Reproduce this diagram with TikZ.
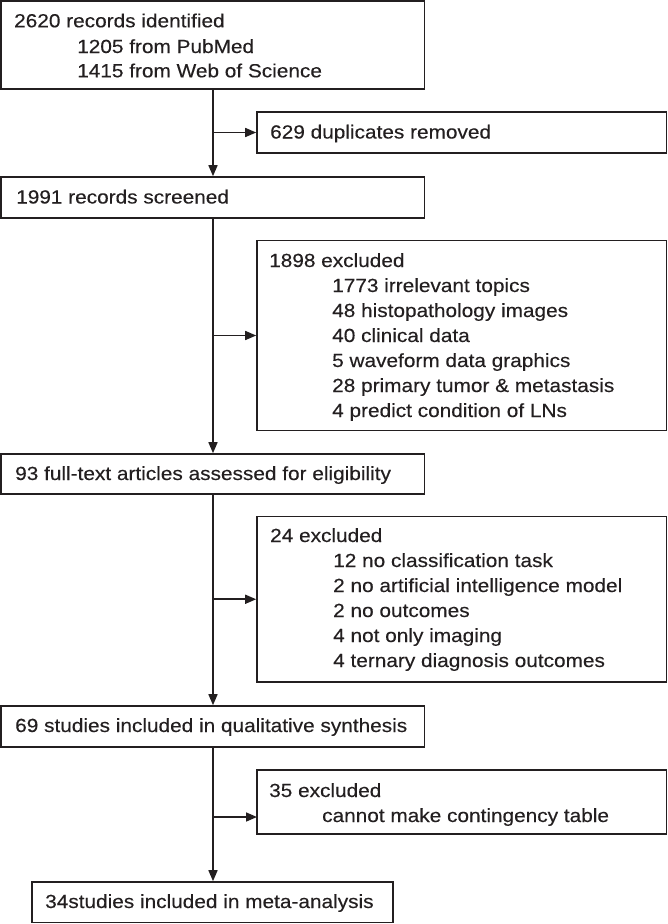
\documentclass[tikz,border=0pt]{standalone}
\usepackage{fontspec}
\setmainfont{Liberation Sans}[FakeStretch=1.095,FakeBold=0.3]
\usetikzlibrary{arrows.meta,fit}
\definecolor{ink}{HTML}{231F20}
\begin{document}
\begin{tikzpicture}[x=1pt,y=-1pt,
  box/.style={draw=ink, line width=1.6pt, inner sep=0pt, rectangle},
  txt/.style={anchor=base west, inner sep=0pt, text=ink, font=\fontsize{19}{25}\selectfont},
  arr/.style={draw=ink, line width=1.6pt, -{Triangle[length=11pt,width=9pt]}}]
\useasboundingbox (0,0) rectangle (668,924);
% boxes
\node[box, fit={(1,1) (424.5,89)}] (b1) {};
\node[box, fit={(257,112) (666.5,153)}] (dup) {};
\node[box, fit={(1,177) (424.5,218)}] (b2) {};
\node[box, fit={(257,240.5) (666.5,430.5)}] (ex1) {};
\node[box, fit={(1,454) (424.5,494)}] (b3) {};
\node[box, fit={(257,516.5) (666.5,682)}] (ex2) {};
\node[box, fit={(1,706) (424.5,747)}] (b4) {};
\node[box, fit={(257,770) (666.5,834)}] (ex3) {};
\node[box, fit={(32,882) (393,922.5)}] (b5) {};
% texts
\node[txt] (t1a) at (14,27.3) {2620 records identified};
\node[txt] (t1b) at (77,53) {1205 from PubMed};
\node[txt] (t1c) at (77,77.3) {1415 from Web of Science};
\node[txt] (td) at (270,138.5) {629 duplicates removed};
\node[txt] (t2) at (16,203.5) {1991 records screened};
\node[txt] (e1a) at (269,267) {1898 excluded};
\node[txt] (e1b) at (332,292) {1773 irrelevant topics};
\node[txt] (e1c) at (332,317) {48 histopathology images};
\node[txt] (e1d) at (332,342) {40 clinical data};
\node[txt] (e1e) at (332,367) {5 waveform data graphics};
\node[txt] (e1f) at (332,392) {28 primary tumor \& metastasis};
\node[txt] (e1g) at (332,417) {4 predict condition of LNs};
\node[txt] (t3) at (15,480) {93 full-text articles assessed for eligibility};
\node[txt] (e2a) at (270,542) {24 excluded};
\node[txt] (e2b) at (333,567) {12 no classification task};
\node[txt] (e2c) at (333,592) {2 no artificial intelligence model};
\node[txt] (e2d) at (333,617) {2 no outcomes};
\node[txt] (e2e) at (333,642) {4 not only imaging};
\node[txt] (e2f) at (333,667) {4 ternary diagnosis outcomes};
\node[txt] (t4) at (15,732) {69 studies included in qualitative synthesis};
\node[txt] (e3a) at (269,797) {35 excluded};
\node[txt] (e3b) at (322,822) {cannot make contingency table};
\node[txt] (t5) at (45,908) {34studies included in meta-analysis};
% connectors
\coordinate (spine) at (213,0);
\coordinate (a3) at (257,817);
\draw[arr] (b1.south -| spine) -- (b2.north -| spine);
\draw[arr] (b2.south -| spine) -- (b3.north -| spine);
\draw[arr] (b3.south -| spine) -- (b4.north -| spine);
\draw[arr] (b4.south -| spine) -- (b5.north -| spine);
\draw[arr] (spine |- dup.west) -- (dup.west);
\draw[arr] (spine |- ex1.west) -- (ex1.west);
\draw[arr] (spine |- ex2.west) -- (ex2.west);
\draw[arr] (spine |- a3) -- (a3);
\end{tikzpicture}
\end{document}
